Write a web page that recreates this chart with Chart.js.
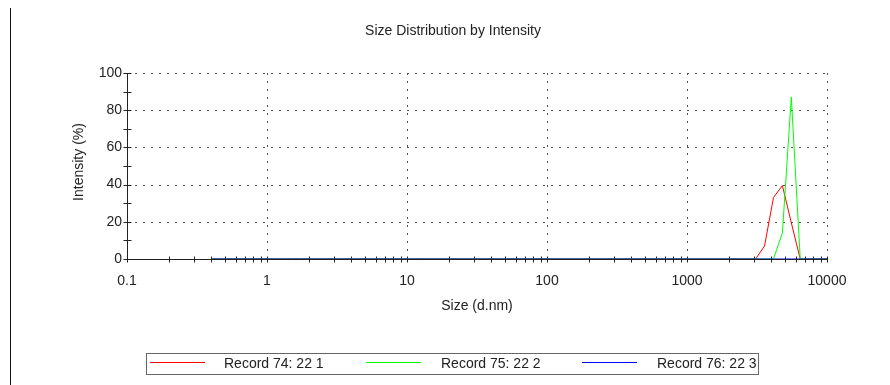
<!DOCTYPE html>
<html>
<head>
<meta charset="utf-8">
<script src="https://cdn.jsdelivr.net/npm/chart.js@4/dist/chart.umd.min.js"></script>
<style>
  html, body { margin: 0; padding: 0; background: #fff; }
  #wrap { width: 890px; height: 385px; }
</style>
</head>
<body>
<div id="wrap"><canvas id="c" width="890" height="385"></canvas></div>
<script>
// Size bins (d.nm)
const sizes = [0.4000, 0.4632, 0.5365, 0.6213, 0.7195, 0.8332, 0.9649,
  1.117, 1.294, 1.499, 1.736, 2.010, 2.328, 2.696, 3.122, 3.615, 4.187, 4.849, 5.615, 6.503, 7.531, 8.721,
  10.10, 11.70, 13.54, 15.69, 18.17, 21.04, 24.36, 28.21, 32.67, 37.84, 43.82, 50.75, 58.77, 68.06, 78.82, 91.28,
  105.7, 122.4, 141.8, 164.2, 190.1, 220.2, 255.0, 295.3, 342.0, 396.1, 458.7, 531.2, 615.1, 712.4, 825.0, 955.4,
  1106, 1281, 1484, 1718, 1990, 2305, 2669, 3091, 3580, 4145, 4801, 5560, 6439, 7456, 8635, 10000];

// Intensity (%) per bin
const record74 = [0, 0, 0, 0, 0, 0, 0,
  0, 0, 0, 0, 0, 0, 0, 0, 0, 0, 0, 0, 0, 0, 0,
  0, 0, 0, 0, 0, 0, 0, 0, 0, 0, 0, 0, 0, 0, 0, 0,
  0, 0, 0, 0, 0, 0, 0, 0, 0, 0, 0, 0, 0, 0, 0, 0,
  0, 0, 0, 0, 0, 0, 0, 0, 7, 33, 39.5, 19.5, 0, 0, 0, 0];
const record75 = [0, 0, 0, 0, 0, 0, 0,
  0, 0, 0, 0, 0, 0, 0, 0, 0, 0, 0, 0, 0, 0, 0,
  0, 0, 0, 0, 0, 0, 0, 0, 0, 0, 0, 0, 0, 0, 0, 0,
  0, 0, 0, 0, 0, 0, 0, 0, 0, 0, 0, 0, 0, 0, 0, 0,
  0, 0, 0, 0, 0, 0, 0, 0, 0, 0, 14, 87, 0, 0, 0, 0];
const record76 = [0, 0, 0, 0, 0, 0, 0,
  0, 0, 0, 0, 0, 0, 0, 0, 0, 0, 0, 0, 0, 0, 0,
  0, 0, 0, 0, 0, 0, 0, 0, 0, 0, 0, 0, 0, 0, 0, 0,
  0, 0, 0, 0, 0, 0, 0, 0, 0, 0, 0, 0, 0, 0, 0, 0,
  0, 0, 0, 0, 0, 0, 0, 0, 0, 0, 0, 0, 0, 0, 0, 0];

const seriesNames = ['Record 74: 22 1', 'Record 75: 22 2', 'Record 76: 22 3'];
const seriesColors = ['#ff0000', '#00ff00', '#0000ff'];
const xTickValues = [0.1, 1, 10, 100, 1000, 10000];
const yTickValues = [0, 20, 40, 60, 80, 100];

const chartTitle = 'Size Distribution by Intensity';
const xTitle = 'Size (d.nm)';
const yTitle = 'Intensity (%)';

const FONT = '"Liberation Sans", Arial, sans-serif';
const TEXT = '#222';

function pts(arr) { return sizes.map((s, i) => ({ x: s, y: arr[i] })); }

const decorations = {
  id: 'decorations',
  beforeDatasetsDraw(chart) {
    const { ctx, chartArea: a, scales: { x, y } } = chart;
    ctx.save();
    // dotted grid
    ctx.strokeStyle = '#555';
    ctx.lineWidth = 1;
    ctx.setLineDash([2, 6]);
    yTickValues.forEach(v => {
      if (v === 0) return;
      const py = Math.round(y.getPixelForValue(v)) + 0.5;
      ctx.beginPath(); ctx.moveTo(a.left, py); ctx.lineTo(a.right, py); ctx.stroke();
    });
    xTickValues.forEach(v => {
      if (v === xTickValues[0]) return;
      const px = Math.round(x.getPixelForValue(v)) + 0.5;
      ctx.beginPath(); ctx.moveTo(px, a.top); ctx.lineTo(px, a.bottom); ctx.stroke();
    });
    ctx.setLineDash([]);
    // axes
    ctx.strokeStyle = '#222';
    const lx = Math.round(a.left) + 0.5;
    const by = Math.round(a.bottom) + 0.5;
    ctx.beginPath(); ctx.moveTo(lx, a.top); ctx.lineTo(lx, by); ctx.lineTo(a.right, by); ctx.stroke();
    // y ticks every 10
    for (let v = 0; v <= 100; v += 10) {
      const py = Math.round(y.getPixelForValue(v)) + 0.5;
      ctx.beginPath(); ctx.moveTo(lx - 4, py); ctx.lineTo(lx + 4, py); ctx.stroke();
    }
    // x ticks (1..9 x decade)
    for (let d = 0; d < xTickValues.length; d++) {
      const dec = xTickValues[d];
      const steps = d === xTickValues.length - 1 ? 1 : 9;
      for (let k = 1; k <= steps; k++) {
        const px = Math.round(x.getPixelForValue(dec * k)) + 0.5;
        ctx.beginPath(); ctx.moveTo(px, by - 3); ctx.lineTo(px, by + 3); ctx.stroke();
      }
    }
    ctx.restore();
  },
  afterDraw(chart) {
    const { ctx, chartArea: a } = chart;
    ctx.save();
    ctx.fillStyle = TEXT;
    ctx.font = '14px ' + FONT;
    ctx.textBaseline = 'middle';
    ctx.textAlign = 'center';
    ctx.fillText(chartTitle, 453, 31);
    ctx.fillText(xTitle, (a.left + a.right) / 2, 306);
    ctx.save();
    ctx.translate(79, 162);
    ctx.rotate(-Math.PI / 2);
    ctx.fillText(yTitle, 0, 0);
    ctx.restore();

    // left border line
    ctx.strokeStyle = '#111';
    ctx.lineWidth = 1;
    ctx.beginPath(); ctx.moveTo(10.5, 8); ctx.lineTo(10.5, 385); ctx.stroke();

    // legend box
    ctx.strokeStyle = '#666';
    ctx.strokeRect(146.5, 353.5, 612, 21);
    const lineStarts = [150, 366, 582];
    const textStarts = [224, 441, 657];
    ctx.textAlign = 'left';
    seriesNames.forEach((n, i) => {
      ctx.strokeStyle = seriesColors[i];
      ctx.beginPath(); ctx.moveTo(lineStarts[i], 362.5); ctx.lineTo(lineStarts[i] + 55, 362.5); ctx.stroke();
      ctx.fillStyle = TEXT;
      ctx.fillText(n, textStarts[i], 364);
    });
    ctx.restore();
  }
};

new Chart(document.getElementById('c'), {
  type: 'line',
  data: {
    datasets: [
      { label: seriesNames[0], data: pts(record74), borderColor: seriesColors[0], borderWidth: 1, pointRadius: 0, tension: 0, order: 3 },
      { label: seriesNames[1], data: pts(record75), borderColor: seriesColors[1], borderWidth: 1, pointRadius: 0, tension: 0, order: 2 },
      { label: seriesNames[2], data: pts(record76), borderColor: seriesColors[2], borderWidth: 1, pointRadius: 0, tension: 0, order: 1 }
    ]
  },
  options: {
    responsive: false,
    animation: false,
    layout: { padding: { left: 0, right: 63, top: 73, bottom: 0 } },
    plugins: { legend: { display: false }, title: { display: false }, tooltip: { enabled: false } },
    scales: {
      x: {
        type: 'logarithmic',
        min: 0.1, max: 10000,
        afterBuildTicks: s => { s.ticks = xTickValues.map(v => ({ value: v })); },
        afterFit: s => { s.height = 126; },
        ticks: {
          autoSkip: false, maxRotation: 0, padding: 14,
          color: TEXT, font: { family: FONT, size: 14 },
          callback: v => String(v)
        },
        grid: { display: false, drawTicks: false },
        border: { display: false }
      },
      y: {
        min: 0, max: 100,
        afterBuildTicks: s => { s.ticks = yTickValues.map(v => ({ value: v })); },
        afterFit: s => { s.width = 127; },
        ticks: { padding: 5, color: TEXT, font: { family: FONT, size: 14 } },
        grid: { display: false, drawTicks: false },
        border: { display: false }
      }
    }
  },
  plugins: [decorations]
});
</script>
</body>
</html>
